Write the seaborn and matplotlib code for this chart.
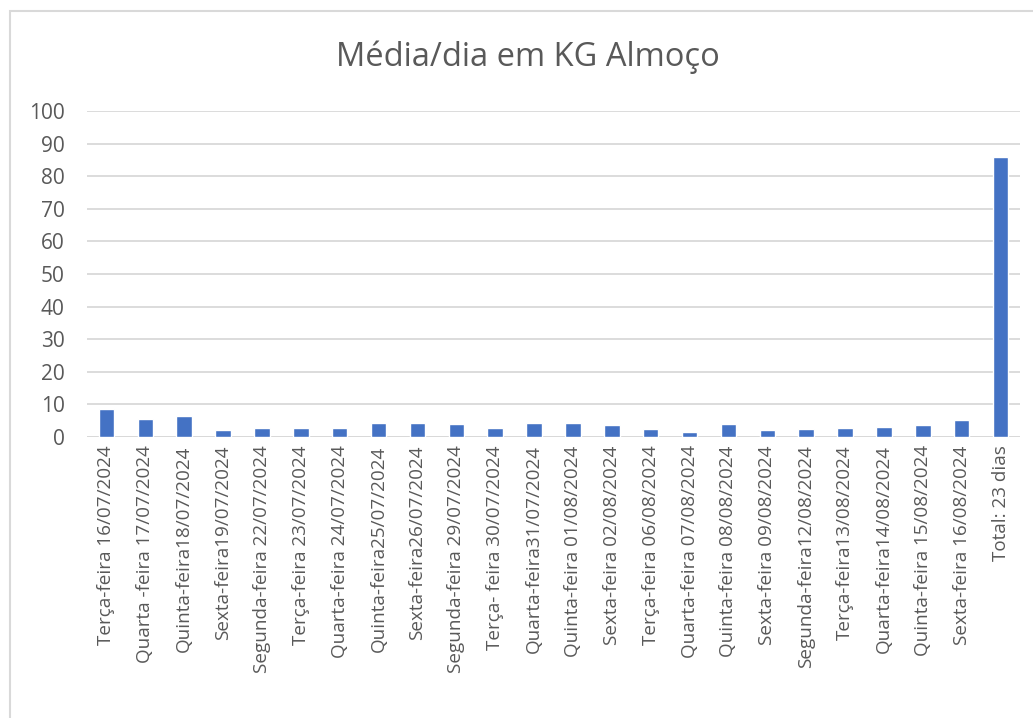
import matplotlib
matplotlib.use('Agg')
import matplotlib.pyplot as plt
import seaborn as sns
import pandas as pd
from matplotlib.patches import Rectangle

dias = [
    'Terça-feira 16/07/2024', 'Quarta -feira 17/07/2024', 'Quinta-feira18/07/2024',
    'Sexta-feira19/07/2024', 'Segunda-feira 22/07/2024', 'Terça-feira 23/07/2024',
    'Quarta-feira 24/07/2024', 'Quinta-feira25/07/2024', 'Sexta-feira26/07/2024',
    'Segunda-feira 29/07/2024', 'Terça- feira 30/07/2024', 'Quarta-feira31/07/2024',
    'Quinta-feira 01/08/2024', 'Sexta-feira 02/08/2024', 'Terça-feira 06/08/2024',
    'Quarta-feira 07/08/2024', 'Quinta-feira 08/08/2024', 'Sexta-feira 09/08/2024',
    'Segunda-feira12/08/2024', 'Terça-feira13/08/2024', 'Quarta-feira14/08/2024',
    'Quinta-feira 15/08/2024', 'Sexta-feira 16/08/2024', 'Total: 23 dias',
]
kg = [8.6, 5.5, 6.4, 2.0, 2.8, 2.8, 2.8, 4.3, 4.3, 3.9, 2.8, 4.3,
      4.3, 3.6, 2.4, 1.5, 3.9, 2.0, 2.4, 2.8, 3.2, 3.6, 5.2, 86.0]

df = pd.DataFrame({'dia': dias, 'kg': kg})

sns.set_style('white')
plt.rcParams['font.family'] = ['Open Sans', 'DejaVu Sans']
cinza = '#595959'

fig = plt.figure(figsize=(10.33, 7.18), dpi=100)
ax = fig.add_axes([0.0842, 0.3914, 0.9032, 0.454])

sns.barplot(data=df, x='dia', y='kg', color='#4472C4', width=0.4,
            saturation=1, ax=ax, zorder=3)

ax.set_ylim(0, 100)
ax.set_xlim(-0.5, len(dias) - 0.5)
ax.set_yticks(range(0, 101, 10))
ax.yaxis.grid(True, color='#D9D9D9', linewidth=1.3, zorder=0)
ax.set_axisbelow(True)
for s in ax.spines.values():
    s.set_visible(False)
ax.axhline(0, color='#D9D9D9', linewidth=1.3, zorder=1)
ax.tick_params(axis='both', length=0, colors=cinza)
ax.tick_params(axis='x', pad=6, labelsize=13.6)
ax.tick_params(axis='y', pad=16, labelsize=15)
plt.setp(ax.get_xticklabels(), rotation=90)
ax.set_xlabel('')
ax.set_ylabel('')

fig.text(0.511, 0.92, 'Média/dia em KG Almoço', ha='center', va='center',
         fontsize=23.5, color=cinza)

fig.patches.append(Rectangle((10 / 1033, -0.05), 1.2, 1.05 - 11 / 718,
                             transform=fig.transFigure, fill=False,
                             edgecolor='#D9D9D9', linewidth=1.5))

fig.savefig('out.png', dpi=100)
